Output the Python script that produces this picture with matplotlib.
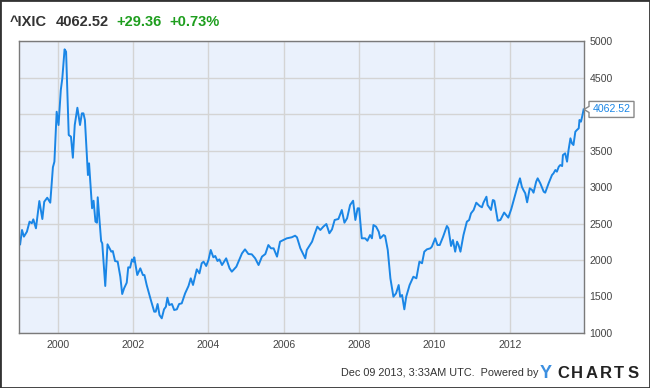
import matplotlib
matplotlib.use("Agg")
import matplotlib.pyplot as plt
from matplotlib.patches import Polygon, Rectangle

plt.rcParams['font.family'] = ['Liberation Sans', 'DejaVu Sans']

# weekly-ish closes of the Nasdaq composite
years = [1999.00, 1999.05, 1999.10, 1999.18, 1999.25, 1999.31, 1999.35, 1999.42, 1999.51, 1999.59,
         1999.64, 1999.72, 1999.80, 1999.87, 1999.91, 1999.97, 2000.02, 2000.08, 2000.12, 2000.18,
         2000.22, 2000.29, 2000.35, 2000.40, 2000.45, 2000.52, 2000.59, 2000.64, 2000.68, 2000.72,
         2000.80, 2000.83, 2000.91, 2000.95, 2001.00, 2001.04, 2001.06, 2001.15, 2001.18, 2001.26,
         2001.32, 2001.42, 2001.46, 2001.52, 2001.59, 2001.66, 2001.71, 2001.76, 2001.83, 2001.87,
         2001.92, 2001.97, 2002.01, 2002.03, 2002.11, 2002.19, 2002.26, 2002.30, 2002.36, 2002.47,
         2002.56, 2002.60, 2002.65, 2002.70, 2002.76, 2002.82, 2002.87, 2002.91, 2002.96, 2003.03,
         2003.09, 2003.16, 2003.22, 2003.29, 2003.38, 2003.47, 2003.53, 2003.59, 2003.69, 2003.76,
         2003.82, 2003.87, 2003.94, 2004.00, 2004.06, 2004.13, 2004.18, 2004.24, 2004.29, 2004.36,
         2004.47, 2004.56, 2004.62, 2004.74, 2004.89, 2004.97, 2005.06, 2005.15, 2005.24, 2005.33,
         2005.42, 2005.51, 2005.59, 2005.66, 2005.73, 2005.82, 2005.90, 2005.99, 2006.08, 2006.21,
         2006.30, 2006.35, 2006.44, 2006.57, 2006.61, 2006.75, 2006.81, 2006.89, 2006.97, 2007.05,
         2007.13, 2007.21, 2007.28, 2007.35, 2007.45, 2007.54, 2007.61, 2007.68, 2007.76, 2007.84,
         2007.90, 2007.96, 2008.00, 2008.07, 2008.16, 2008.22, 2008.29, 2008.34, 2008.38, 2008.45,
         2008.52, 2008.56, 2008.65, 2008.69, 2008.76, 2008.83, 2008.91, 2008.98, 2009.05, 2009.09,
         2009.14, 2009.20, 2009.25, 2009.34, 2009.44, 2009.52, 2009.60, 2009.67, 2009.73, 2009.80,
         2009.89, 2009.93, 2010.02, 2010.08, 2010.14, 2010.23, 2010.33, 2010.37, 2010.44, 2010.49,
         2010.55, 2010.60, 2010.64, 2010.69, 2010.77, 2010.86, 2010.92, 2010.97, 2011.04, 2011.11,
         2011.20, 2011.26, 2011.30, 2011.38, 2011.41, 2011.50, 2011.55, 2011.59, 2011.68, 2011.75,
         2011.85, 2011.96, 2012.04, 2012.12, 2012.20, 2012.27, 2012.32, 2012.36, 2012.41, 2012.46,
         2012.50, 2012.53, 2012.59, 2012.63, 2012.70, 2012.74, 2012.81, 2012.90, 2012.94, 2013.03,
         2013.12, 2013.16, 2013.21, 2013.25, 2013.30, 2013.34, 2013.39, 2013.41, 2013.47, 2013.52,
         2013.56, 2013.61, 2013.65, 2013.69, 2013.74, 2013.78, 2013.83, 2013.85, 2013.89, 2013.93,
         2013.96]
closes = [2215, 2411, 2320, 2388, 2525, 2503, 2557, 2434, 2808, 2561,
          2798, 2853, 2785, 3270, 3347, 4031, 3849, 4329, 4489, 4886,
          4853, 3712, 3689, 3401, 3849, 4086, 3849, 4009, 4009, 3918,
          3164, 3324, 2708, 2812, 2525, 2511, 2859, 2260, 2228, 1644,
          2215, 2114, 2123, 1986, 1977, 1771, 1534, 1612, 1689, 1900,
          1895, 2009, 1977, 2037, 1794, 1886, 1794, 1794, 1657, 1452,
          1292, 1292, 1397, 1246, 1201, 1324, 1360, 1483, 1383, 1397,
          1315, 1324, 1397, 1406, 1543, 1644, 1749, 1658, 1872, 1817,
          1955, 1977, 1918, 2000, 2137, 2037, 2055, 1986, 2009, 1931,
          2023, 1886, 1840, 1908, 2091, 2146, 2082, 2078, 2023, 1931,
          2046, 2082, 2205, 2160, 2160, 2046, 2251, 2274, 2297, 2311,
          2333, 2311, 2160, 2023, 2137, 2251, 2343, 2457, 2411, 2457,
          2493, 2366, 2420, 2548, 2562, 2685, 2511, 2571, 2753, 2812,
          2548, 2708, 2708, 2297, 2297, 2264, 2342, 2297, 2479, 2457,
          2388, 2297, 2342, 2329, 2137, 1749, 1497, 1543, 1657, 1497,
          1520, 1324, 1497, 1657, 1771, 1749, 1977, 1955, 2114, 2146,
          2160, 2182, 2297, 2205, 2205, 2320, 2466, 2434, 2192, 2274,
          2114, 2251, 2205, 2114, 2342, 2525, 2548, 2639, 2685, 2785,
          2740, 2722, 2785, 2867, 2753, 2685, 2822, 2812, 2538, 2548,
          2650, 2580, 2700, 2850, 3000, 3119, 3004, 2960, 2914, 2790,
          2900, 2982, 2960, 2922, 3073, 3119, 3050, 2936, 2922, 3050,
          3164, 3187, 3233, 3210, 3278, 3301, 3287, 3438, 3461, 3347,
          3507, 3667, 3598, 3575, 3757, 3780, 3804, 3918, 3895, 3986,
          4062.52]

ticker = "^IXIC"
last = "4062.52"
change = "+29.36"
pct = "+0.73%"
x_ticks = [2000, 2002, 2004, 2006, 2008, 2010, 2012]
y_ticks = [1000, 1500, 2000, 2500, 3000, 3500, 4000, 4500, 5000]
# the 4000 label sits under the last-value flag
y_labels = ['1000', '1500', '2000', '2500', '3000', '3500', '', '4500', '5000']

W, H = 650, 388
fig = plt.figure(figsize=(W / 100, H / 100), dpi=100)
ax = fig.add_axes([19 / W, (H - 333) / H, (584 - 19) / W, (333 - 41) / H])

ax.set_facecolor('#eaf1fc')
ax.plot(years, closes, color='#1a86e6', lw=1.4, solid_joinstyle='round')
ax.set_xlim(1998.97, 2013.97)
ax.set_ylim(1000, 5000)
ax.set_xticks(x_ticks)
ax.set_yticks(y_ticks)
ax.set_yticklabels(y_labels)
ax.grid(True, color='#d4d4d4', lw=1)
ax.set_axisbelow(True)
ax.yaxis.tick_right()
ax.tick_params(length=0, labelsize=7.6, colors='#444444')
ax.tick_params(axis='y', pad=4)
ax.tick_params(axis='x', pad=5)
for s in ax.spines.values():
    s.set_color('#7a7a7a')
    s.set_linewidth(1)

# header
hy = 1 - 21.5 / H
fig.text(10 / W, hy, ticker, fontsize=10.5, fontweight='bold', color='#333333', va='center')
fig.text(56 / W, hy, last, fontsize=10.5, fontweight='bold', color='#333333', va='center')
fig.text(116 / W, hy, change, fontsize=10.5, fontweight='bold', color='#1e9e1e', va='center')
fig.text(169 / W, hy, pct, fontsize=10.5, fontweight='bold', color='#1e9e1e', va='center')

# last value flag
fig.canvas.draw()
px, py = ax.transData.transform((ax.get_xlim()[1], closes[-1]))
ptr = Polygon([(px, py), (px + 5, py + 3), (px + 5, py + 8), (px + 50, py + 8),
               (px + 50, py - 8), (px + 5, py - 8), (px + 5, py - 3)],
              closed=True, transform=None, facecolor='white', edgecolor='#888888',
              lw=1, zorder=5)
fig.patches.append(ptr)
fig.text((px + 28) / W, py / H, last, fontsize=7.6, color='#1a86e6',
         ha='center', va='center', zorder=6)

# footer
fig.text(341 / W, 1 - 373 / H, "Dec 09 2013, 3:33AM UTC.  Powered by", fontsize=7.8,
         color='#333333', va='center')
fig.text(540 / W, 1 - 374 / H, "Y", fontsize=13, fontweight='bold', color='#3c8fe0', va='center')
for i, ch in enumerate("CHARTS"):
    fig.text((557 + i * 14.2) / W, 1 - 374 / H, ch, fontsize=12, fontweight='bold',
             color='#222222', va='center')

fig.patches.append(Rectangle((0, 0), 1, 1, transform=fig.transFigure, fill=False,
                             edgecolor='#333333', lw=2))

fig.savefig('out.png', dpi=100)
